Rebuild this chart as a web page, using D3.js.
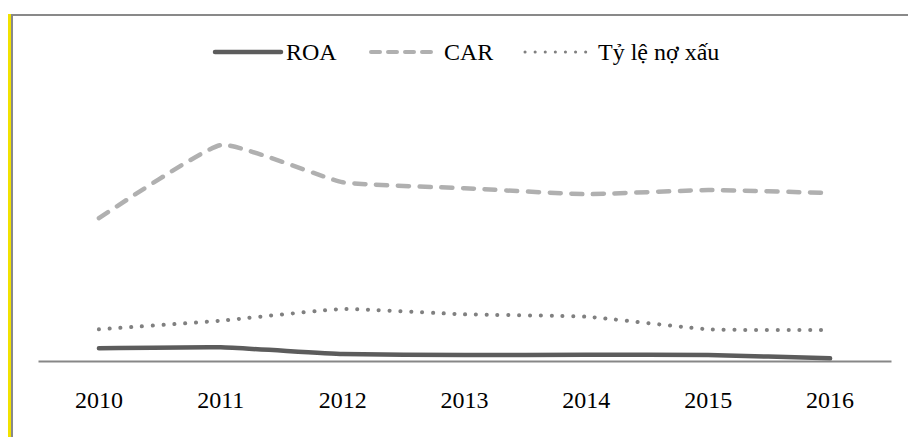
<!DOCTYPE html>
<html>
<head>
<meta charset="utf-8">
<script src="https://cdn.jsdelivr.net/npm/d3@7"></script>
<style>
  body { margin: 0; background: #fff; }
  svg { display: block; font-family: "Liberation Serif", "Times New Roman", serif; }
</style>
</head>
<body>
<div id="chart"></div>
<script>
// chart data (percent)
const years = ["2010", "2011", "2012", "2013", "2014", "2015", "2016"];
const roa = [1.06, 1.14, 0.58, 0.5, 0.52, 0.5, 0.22];
const car = [11.9, 18.0, 14.9, 14.4, 13.9, 14.25, 14.0];
const npl = [2.64, 3.36, 4.33, 3.89, 3.69, 2.64, 2.58];
const seriesNames = ["ROA", "CAR", "Tỷ lệ nợ xấu"];

const width = 908, height = 437;

const svg = d3.select("#chart")
  .append("svg")
  .attr("width", width)
  .attr("height", height);

// frame: yellow bar + gray border
svg.append("rect")
  .attr("x", 8).attr("y", 14)
  .attr("width", 3).attr("height", height - 14)
  .style("fill", "#f2e200");
svg.append("path")
  .attr("d", "M12," + height + "V15H" + width)
  .style("fill", "none")
  .style("stroke", "#898989")
  .style("stroke-width", 2);

// scales
let xScale = d3.scaleBand()
  .domain(years)
  .range([38, 891]);

let yScale = d3.scaleLinear()
  .domain([0, 25])
  .range([361, 61]);

// x axis
const xAxis = svg.append("g")
  .attr("transform", "translate(0,361)")
  .call(d3.axisBottom(xScale).tickSize(0).tickPadding(0));
xAxis.select(".domain")
  .style("stroke", "#878787")
  .style("stroke-width", 2);
xAxis.selectAll("text")
  .attr("y", 47)
  .attr("dy", 0)
  .style("font-family", "Liberation Serif, serif")
  .style("font-size", "24px")
  .style("fill", "#000");

const styles = [
  { color: "#5c5c5c", dash: null, legendDash: null, width: 4.5, legendWidth: 4.5 },
  { color: "#b0b0b0", dash: "11,10.7", legendDash: "9,8", width: 4.5, legendWidth: 4 },
  { color: "#808080", dash: "0.1,10.7", legendDash: "0.1,10", width: 4, legendWidth: 3 }
];

const series = [roa, car, npl];

let line = d3.line()
  .x((d, i) => xScale(years[i]) + xScale.bandwidth() / 2)
  .y(d => yScale(d))
  .curve(d3.curveCardinal.tension(0.6));

// draw in back-to-front order
[2, 1, 0].forEach(k => {
  svg.append("path")
    .datum(series[k])
    .attr("d", line)
    .style("fill", "none")
    .style("stroke", styles[k].color)
    .style("stroke-width", styles[k].width)
    .style("stroke-linecap", "round")
    .style("stroke-linejoin", "round")
    .style("stroke-dasharray", styles[k].dash);
});

// legend
const legendX = [215, 371, 525];
const legend = svg.append("g").attr("class", "legend");
seriesNames.forEach((name, k) => {
  const g = legend.append("g").attr("transform", "translate(" + legendX[k] + ",52)");
  g.append("line")
    .attr("x1", 0).attr("x2", 66)
    .style("stroke", styles[k].color)
    .style("stroke-width", styles[k].legendWidth)
    .style("stroke-linecap", "round")
    .style("stroke-dasharray", styles[k].legendDash);
  g.append("text")
    .attr("x", k === 0 ? 71 : 73)
    .attr("y", 8)
    .style("font-size", "24px")
    .style("fill", "#000")
    .text(name);
});
</script>
</body>
</html>
